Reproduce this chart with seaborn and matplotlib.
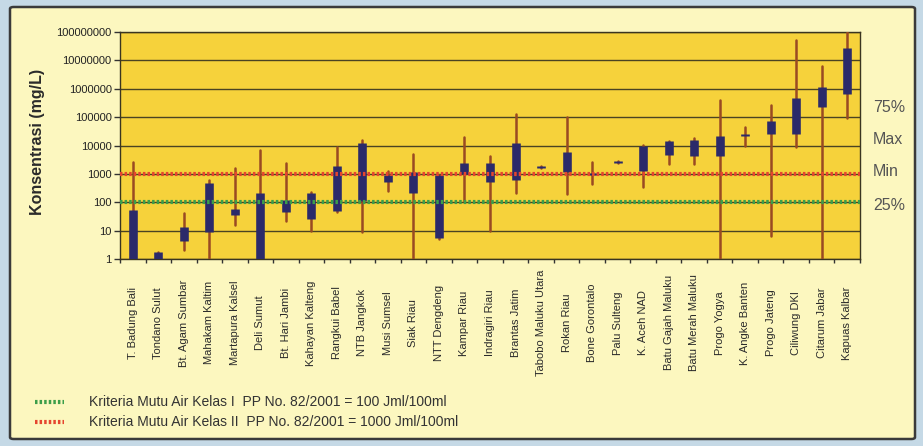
import numpy as np
import pandas as pd
import matplotlib
matplotlib.use("Agg")
import matplotlib.pyplot as plt
import seaborn as sns
from matplotlib.patches import FancyBboxPatch
from matplotlib.lines import Line2D
from matplotlib.ticker import FixedLocator, FuncFormatter, NullLocator

categories = ["T. Badung Bali", "Tondano Sulut", "Bt. Agam Sumbar", "Mahakam Kaltim",
              "Martapura Kalsel", "Deli Sumut", "Bt. Hari Jambi", "Kahayan Kalteng",
              "Rangkui Babel", "NTB Jangkok", "Musi Sumsel", "Siak Riau", "NTT Dengdeng",
              "Kampar Riau", "Indragiri Riau", "Brantas Jatim", "Tabobo Maluku Utara",
              "Rokan Riau", "Bone Gorontalo", "Palu Sulteng", "K. Aceh NAD",
              "Batu Gajah Maluku", "Batu Merah Maluku", "Progo Yogya", "K. Angke Banten",
              "Progo Jateng", "Ciliwung DKI", "Citarum Jabar", "Kapuas Kalbar"]
v_max = [2700, 1.8, 43, 600, 1560, 7000, 2500, 234, 8900, 15400, 1240, 5200, 900, 20000,
         4260, 127000, 1850, 102000, 2600, 2800, 10500, 14500, 18000, 400000, 44000,
         270000, 5.1e7, 6.2e6, 1e8]
v_q75 = [54, 1.75, 13, 465, 57, 218, 118, 204, 1870, 12700, 900, 1120, 880, 2350, 2500,
         12500, 1850, 6000, 1100, 2800, 9500, 14000, 16000, 21000, 26000, 75000, 467000,
         1.2e6, 2.7e7]
v_q25 = [1, 1, 4.2, 8.6, 36, 1, 46, 25.5, 49, 110, 525, 204, 5.5, 1000, 535, 610, 1600,
         1200, 900, 2350, 1300, 4700, 4400, 4200, 22000, 25000, 25000, 223000, 660000]
v_min = [1, 1, 2.1, 1, 16, 1, 21, 9.6, 45, 9, 246, 1, 5, 107, 9.4, 208, 1600, 198, 440,
         2350, 340, 2250, 2250, 1, 9500, 6.7, 9100, 1, 91000]

ytick_values = [1, 10, 100, 1000, 10000, 100000, 1000000, 10000000, 100000000]
ref_values = [100, 1000]
ref_labels = ["Kriteria Mutu Air Kelas I  PP No. 82/2001 = 100 Jml/100ml",
              "Kriteria Mutu Air Kelas II  PP No. 82/2001 = 1000 Jml/100ml"]
ref_colors = ["#3c9e4a", "#e5452f"]
side_labels = ["75%", "Max", "Min", "25%"]
y_label = "Konsentrasi (mg/L)"

sns.set_theme(style="white")
plt.rcParams["font.family"] = ["Liberation Sans", "DejaVu Sans"]

W, H = 923, 446
fig = plt.figure(figsize=(W / 100, H / 100), dpi=100)
fig.patch.set_facecolor("#c5d9e6")
panel = FancyBboxPatch((10 / W, 7 / H), 905 / W, 432 / H,
                       boxstyle="round,pad=0,rounding_size=0.004",
                       transform=fig.transFigure, facecolor="#fcf7bf",
                       edgecolor="#3a3a3a", lw=1.8, zorder=-10)
fig.patches.append(panel)

ax = fig.add_axes([120 / W, 1 - 259 / H, 740 / W, 227 / H])
ax.set_facecolor("#f6d23b")

pos = np.arange(len(categories))
whisk = pd.DataFrame({"pos": np.concatenate([pos, pos]),
                      "val": v_min + v_max,
                      "cat": categories + categories})
box = pd.DataFrame({"pos": np.concatenate([pos, pos]),
                    "val": v_q25 + v_q75,
                    "cat": categories + categories})

ax.set_yscale("log")
sns.lineplot(data=whisk, x="pos", y="val", units="cat", estimator=None,
             color="#9a4a22", lw=1.8, ax=ax, legend=False, zorder=3)
sns.lineplot(data=box, x="pos", y="val", units="cat", estimator=None,
             color="#2b2a6a", lw=6.2, ax=ax, legend=False, zorder=4,
             solid_capstyle="butt")

dots = (0, (0.6, 0.5))
for v, c in zip(ref_values, ref_colors):
    ax.axhline(v, color=c, lw=3, ls=dots, zorder=5)

ax.set_ylim(1, 1e8)
ax.set_xlim(-0.5, len(categories) - 0.5)
ax.yaxis.set_major_locator(FixedLocator(ytick_values))
ax.yaxis.set_minor_locator(NullLocator())
ax.yaxis.set_major_formatter(FuncFormatter(lambda v, p: f"{int(round(v))}"))
ax.grid(axis="y", color="#4a4322", lw=1.0, zorder=1)
ax.set_axisbelow(True)
ax.tick_params(axis="y", length=4, width=1, color="#333333", labelsize=8,
               labelcolor="#222222", pad=2, left=True)

ax.set_xticks(pos)
ax.set_xticklabels(categories, rotation=90, fontsize=8, color="#2a2a2a",
                   va="center", ha="center")
ax.tick_params(axis="x", which="major", length=0, pad=46)
ax.set_xticks(np.arange(len(categories) + 1) - 0.5, minor=True)
ax.tick_params(axis="x", which="minor", length=3, width=1, color="#333333",
               direction="out", bottom=True)
ax.set_xlabel("")
ax.set_ylabel("")
for s in ax.spines.values():
    s.set_color("#3a3520")
    s.set_linewidth(1.0)

fig.text(38 / W, 1 - 142 / H, y_label, rotation=90, ha="center", va="center",
         fontsize=11.5, weight="bold", color="#2a2a2a")

for lab, yy in zip(side_labels, [107, 140, 172, 205]):
    fig.text(873 / W, 1 - yy / H, lab, ha="left", va="center", fontsize=11.5,
             color="#555555")

for lab, c, yy in zip(ref_labels, ref_colors, [402, 422]):
    fig.add_artist(Line2D([35 / W, 64 / W], [1 - yy / H, 1 - yy / H], color=c,
                          lw=3, ls=dots, transform=fig.transFigure))
    fig.text(89 / W, 1 - yy / H, lab, ha="left", va="center", fontsize=10,
             color="#333333")

fig.savefig("out.png", dpi=100, facecolor=fig.get_facecolor())
